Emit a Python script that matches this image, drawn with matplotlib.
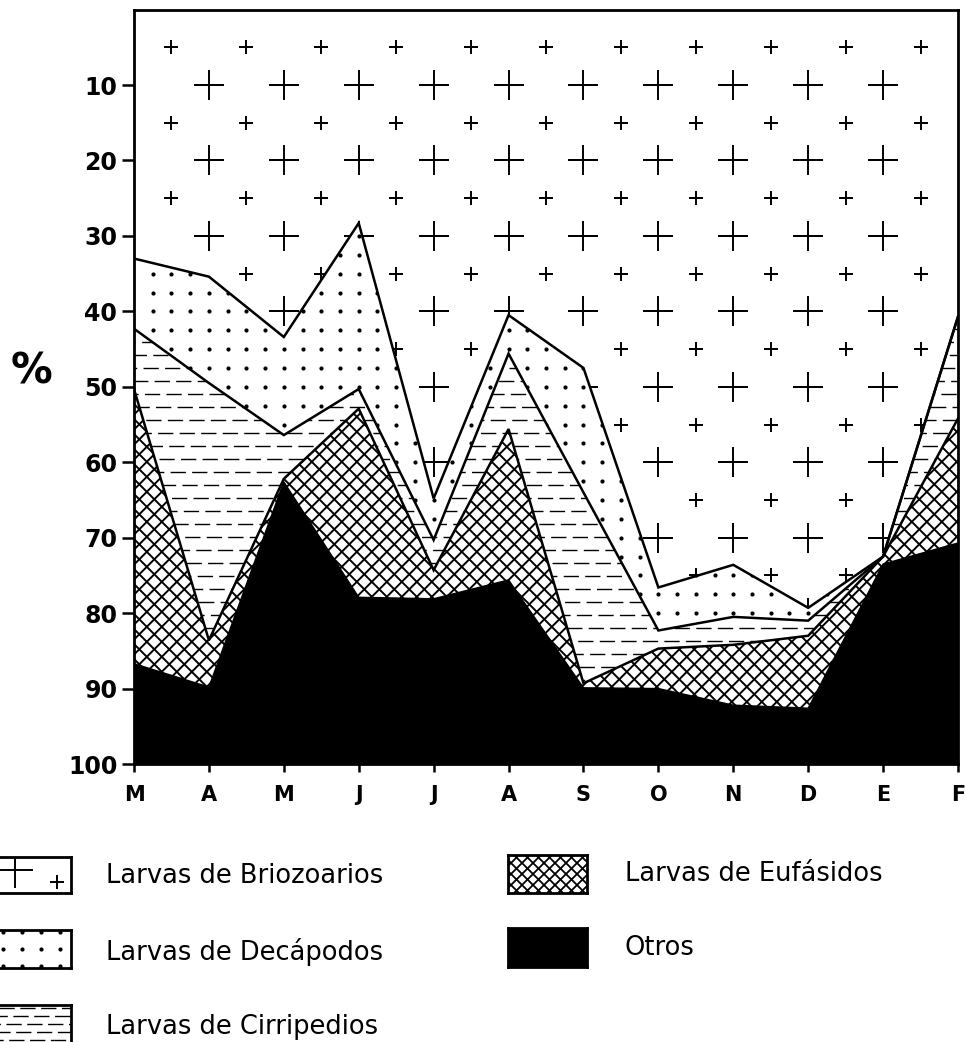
import matplotlib
matplotlib.use("Agg")
import matplotlib.pyplot as plt
import numpy as np
from matplotlib.collections import LineCollection
from matplotlib.patches import Polygon
from matplotlib.transforms import IdentityTransform

# porcentajes mensuales (de arriba hacia abajo en el grafico)
meses = ["M", "A", "M", "J", "J", "A", "S", "O", "N", "D", "E", "F"]
briozoarios = [33.0, 35.4, 43.4, 28.3, 64.8, 40.5, 47.5, 76.6, 73.6, 79.3, 72.5, 40.7]
decapodos = [9.3, 14.1, 13.0, 22.0, 5.5, 5.1, 16.5, 5.7, 6.9, 1.7, 0.0, 0.0]
cirripedios = [8.0, 34.1, 5.8, 2.6, 4.0, 10.0, 25.3, 2.4, 3.7, 2.0, 0.0, 13.5]
eufasidos = [36.4, 6.2, 0.4, 25.0, 3.8, 20.0, 0.6, 5.3, 8.0, 9.6, 1.0, 16.5]
otros = [13.3, 10.2, 37.4, 22.1, 21.9, 24.4, 10.1, 10.0, 7.8, 7.4, 26.5, 29.3]

etiquetas = ["Larvas de Briozoarios", "Larvas de Decápodos", "Larvas de Cirripedios",
             "Larvas de Eufásidos", "Otros"]

W, H, DPI = 966, 1042, 100
plt.rcParams["font.family"] = "DejaVu Sans"
plt.rcParams["lines.scale_dashes"] = False

fig = plt.figure(figsize=(W / DPI, H / DPI), dpi=DPI)
ax = fig.add_axes([134 / W, 1 - 764 / H, 824 / W, 754.4 / H])
x = np.arange(len(meses))
ax.set_xlim(0, len(meses) - 1)
ax.set_ylim(100, 0)

capas = [briozoarios, decapodos, cirripedios, eufasidos, otros]
bordes = [np.zeros(len(meses))]
for c in capas:
    bordes.append(bordes[-1] + np.array(c))


def banda(i):
    verts = list(zip(x, bordes[i])) + list(zip(x[::-1], bordes[i + 1][::-1]))
    p = Polygon(verts, closed=True, facecolor="white", edgecolor="none", zorder=1)
    ax.add_patch(p)
    return p


def cruzado(axis, clip, paso, lw):
    # rayado diagonal en pixeles
    bb = axis.bbox
    x0, y0, w, h = bb.x0, bb.y0, bb.width, bb.height
    segs = []
    for c in np.arange(-h, w + h, paso):
        segs.append([(x0 + c, y0), (x0 + c + h, y0 + h)])
        segs.append([(x0 + c, y0 + h), (x0 + c + h, y0)])
    lc = LineCollection(segs, colors="black", linewidths=lw, transform=IdentityTransform(), zorder=2)
    axis.add_collection(lc, autolim=False)
    if clip is not None:
        lc.set_clip_path(clip)
    return lc


# Briozoarios: cruces grandes y chicas
p = banda(0)
gx, gy = np.meshgrid(np.arange(1, 11), np.arange(10, 100, 10))
for l in ax.plot(gx.ravel(), gy.ravel(), "+", color="black", ms=21.5, mew=1.4, zorder=2):
    l.set_clip_path(p)
sx, sy = np.meshgrid(np.arange(0.5, 11, 1.0), np.arange(5, 100, 10))
for l in ax.plot(sx.ravel(), sy.ravel(), "+", color="black", ms=9.5, mew=1.4, zorder=2):
    l.set_clip_path(p)

# Decapodos: puntos
p = banda(1)
dx, dy = np.meshgrid(np.arange(0.25, 11, 0.25), np.arange(2.5, 100, 2.5))
for l in ax.plot(dx.ravel(), dy.ravel(), "o", color="black", ms=3.0, mew=0, zorder=2):
    l.set_clip_path(p)

# Cirripedios: lineas de trazos
p = banda(2)
for k, yy in enumerate(np.arange(1.1, 100, 1.72)):
    l, = ax.plot([0, 11], [yy, yy], color="black", lw=1.0,
                 linestyle=((k * 7) % 15, (11, 4.5)), zorder=2)
    l.set_clip_path(p)

# Eufasidos: cuadriculado diagonal
p = banda(3)
cruzado(ax, p, 15, 1.4)

# Otros: negro
verts = list(zip(x, bordes[4])) + list(zip(x[::-1], bordes[5][::-1]))
ax.add_patch(Polygon(verts, closed=True, facecolor="black", edgecolor="black", lw=1.0, zorder=3))

for i in (1, 2, 3):
    ax.plot(x, bordes[i], color="black", lw=1.8, zorder=4, solid_joinstyle="miter")

for s in ax.spines.values():
    s.set_linewidth(2.0)
    s.set_zorder(5)
ax.set_xticks(x)
ax.set_xticklabels(meses, fontsize=15, fontweight="bold")
ax.set_yticks(np.arange(10, 101, 10))
ax.set_yticklabels([str(v) for v in range(10, 101, 10)], fontsize=17, fontweight="bold")
ax.tick_params(axis="y", length=9, width=1.8, pad=3)
ax.tick_params(axis="x", length=6, width=1.8, pad=9)
fig.text(31 / W, 1 - 372 / H, "%", fontsize=30, fontweight="bold", ha="center", va="center")


# leyenda
def caja(x0, y0, x1, y1):
    a = fig.add_axes([x0 / W, 1 - y1 / H, (x1 - x0) / W, (y1 - y0) / H])
    a.set_xlim(x0, x1)
    a.set_ylim(y1, y0)
    a.set_xticks([])
    a.set_yticks([])
    for s in a.spines.values():
        s.set_linewidth(2.0)
    return a


a = caja(-2, 857, 71, 893)
a.plot([15], [870], "+", color="black", ms=26, mew=1.4)
a.plot([57], [882], "+", color="black", ms=9.5, mew=1.4)

a = caja(-2, 930, 71, 968)
lx, ly = np.meshgrid([3, 22, 41, 60], [932, 949, 966])
a.plot(lx.ravel(), ly.ravel(), "o", color="black", ms=3.0, mew=0, clip_on=False)

a = caja(-2, 1005, 71, 1043)
for k, yy in enumerate([1008, 1016, 1024, 1032, 1040]):
    a.plot([-2, 71], [yy, yy], color="black", lw=1.0, linestyle=((k * 5) % 12, (11, 4)))

a = caja(508, 855, 587, 893)
cruzado(a, None, 11, 1.3)

a = caja(508, 928, 587, 967)
a.set_facecolor("black")

for txt, (tx, ty) in zip(etiquetas, [(106, 876), (106, 952), (106, 1027), (625, 874), (625, 948)]):
    fig.text(tx / W, 1 - ty / H, txt, fontsize=18.5, ha="left", va="center")

fig.savefig("out.png", dpi=DPI)
